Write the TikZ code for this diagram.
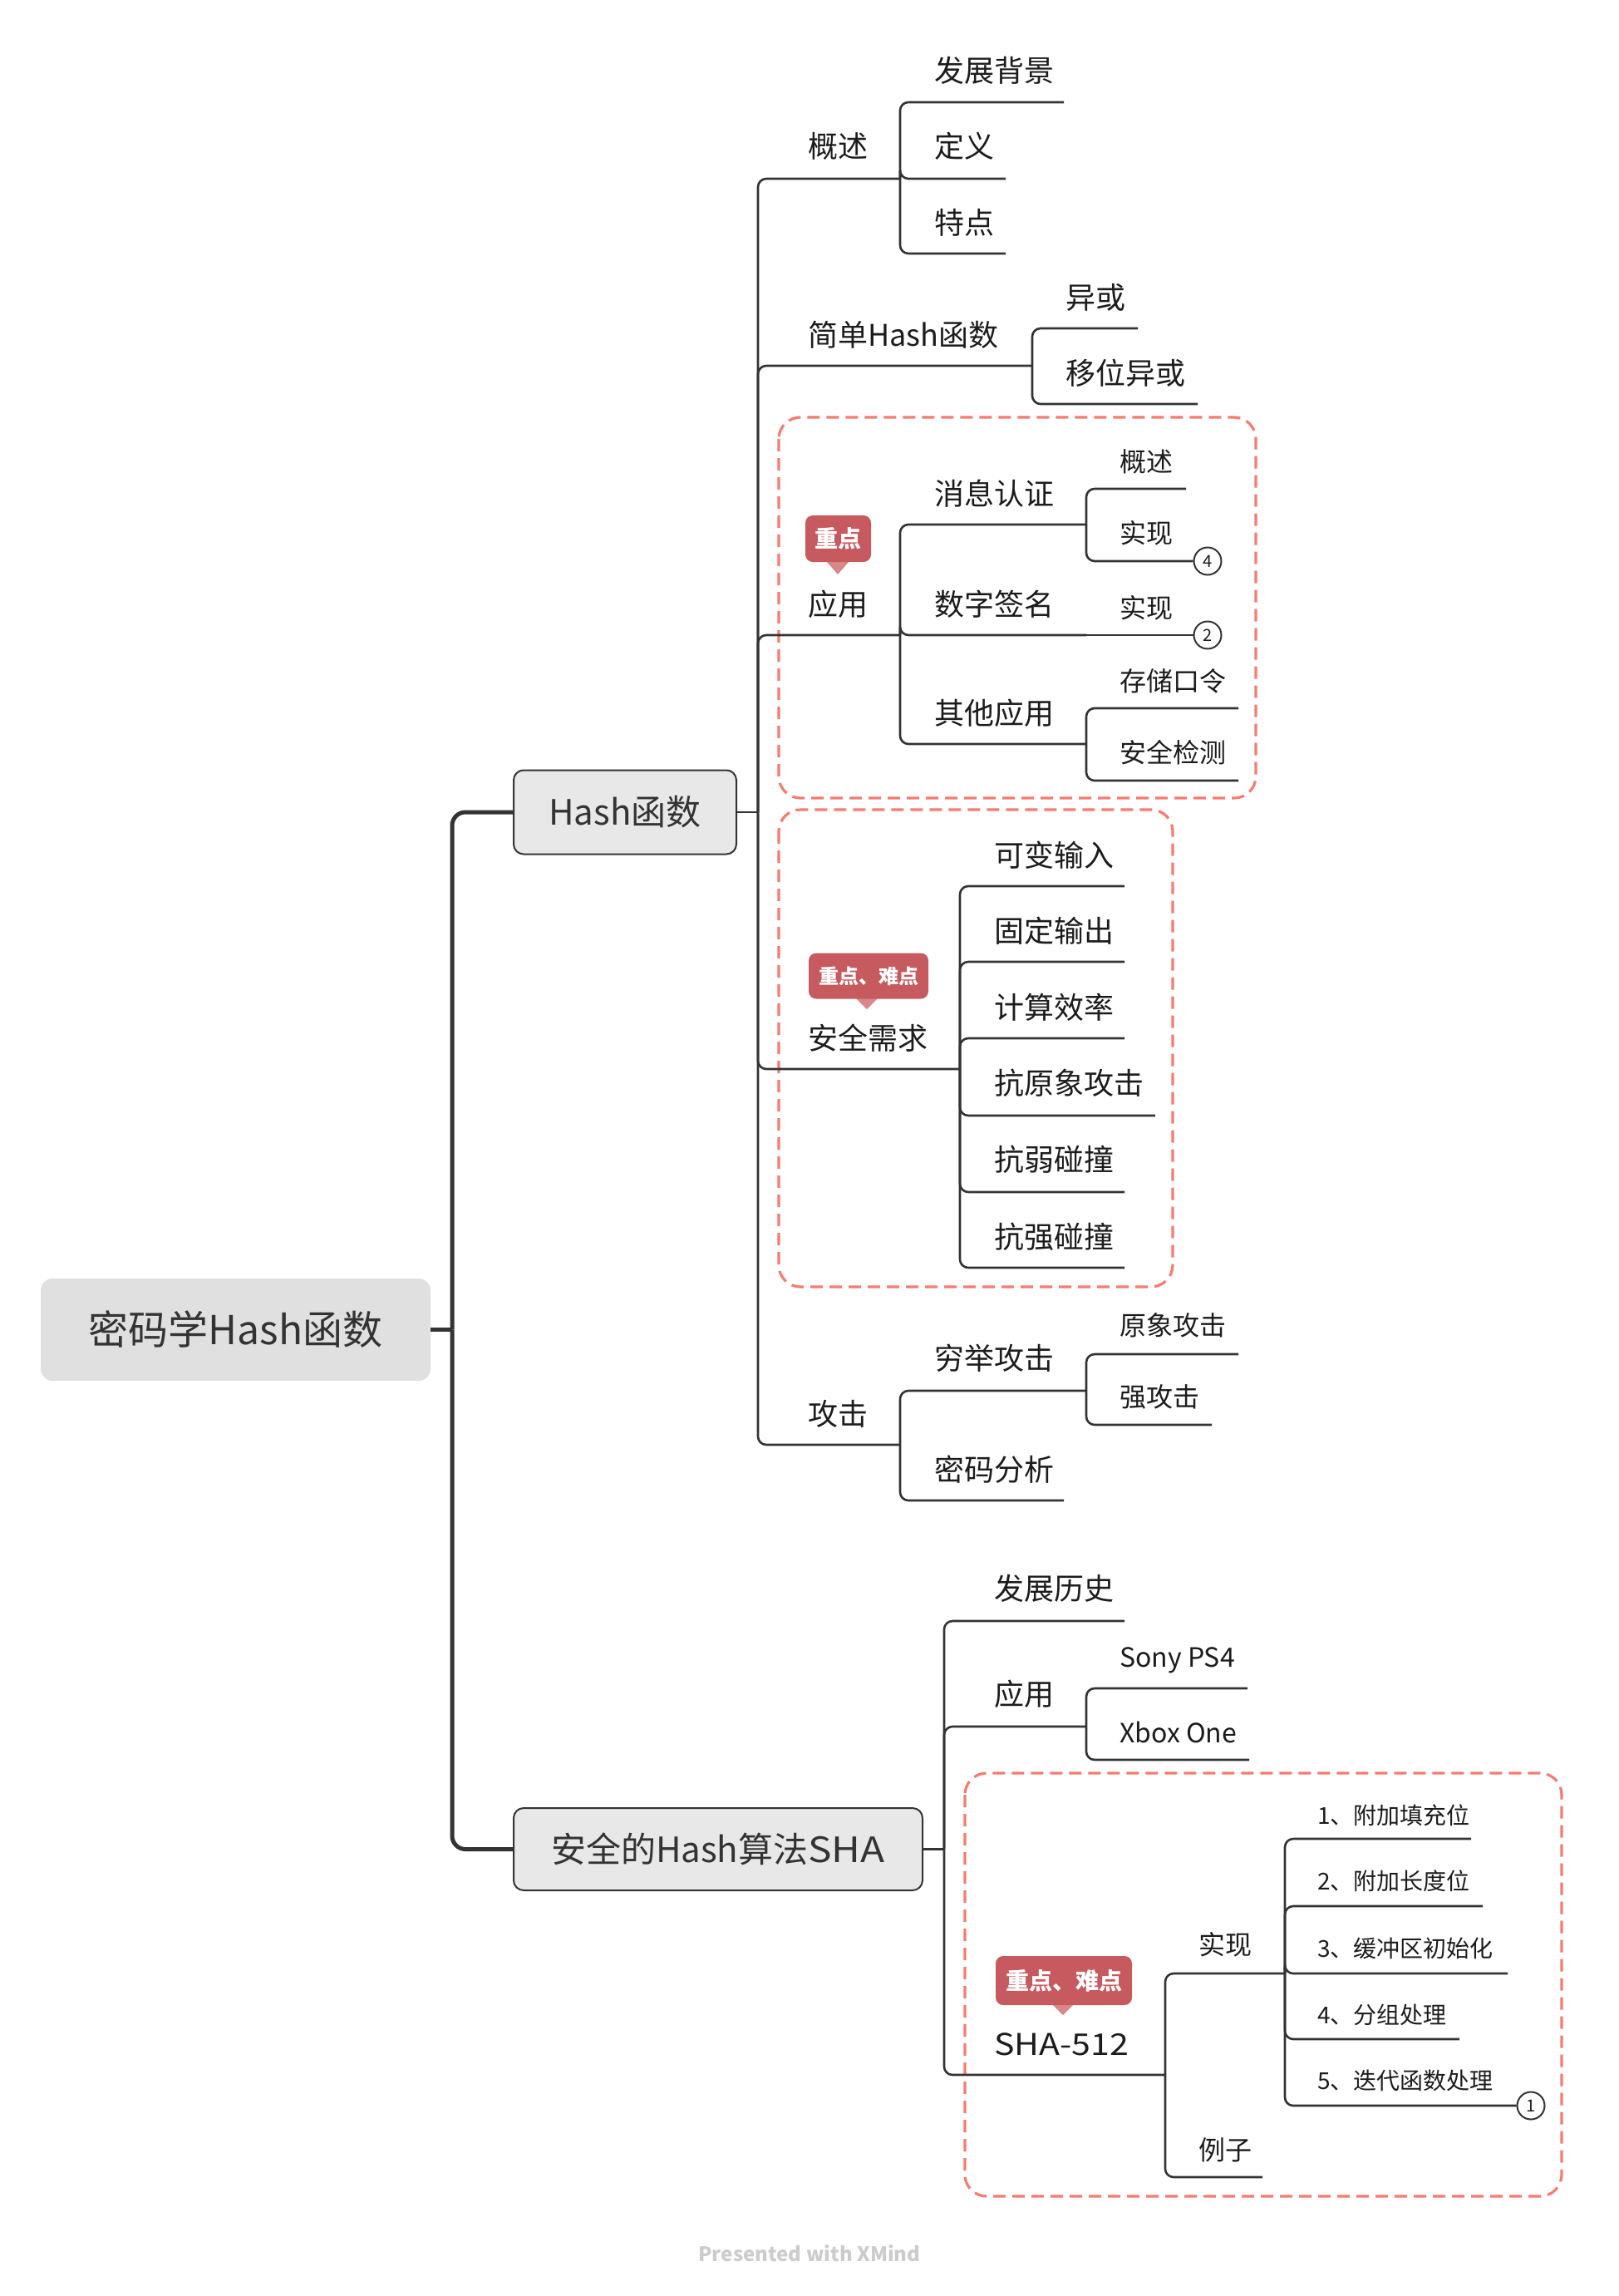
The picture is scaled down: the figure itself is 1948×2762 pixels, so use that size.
\documentclass[tikz,border=0pt]{standalone}
\usepackage{fontspec}
\setmainfont{Noto Sans CJK SC}
\newfontfamily\widelat{Noto Sans CJK SC}[FakeStretch=1.14]
\definecolor{linec}{HTML}{333333}
\definecolor{redd}{HTML}{F67B71}
\definecolor{tagc}{HTML}{C65A5E}
\definecolor{tagp}{HTML}{D9878A}
\definecolor{rootfill}{HTML}{E0E0E0}
\definecolor{boxfill}{HTML}{E8E8E8}
\definecolor{txt}{HTML}{1C1C1C}
\definecolor{txtb}{HTML}{333333}
\definecolor{wmc}{HTML}{CCCCCC}
\begin{document}
\begin{tikzpicture}[x=1pt,y=-1pt,
 t1/.style={anchor=west,inner sep=0pt,text=txt,font=\fontsize{36}{40}\selectfont},
 t2/.style={anchor=west,inner sep=0pt,text=txt,font=\fontsize{32}{36}\selectfont},
 t3/.style={anchor=west,inner sep=0pt,text=txt,font=\fontsize{28}{32}\selectfont},
 br/.style={draw=linec,line width=2.6pt,rounded corners=10pt},
 trunkline/.style={draw=linec,line width=5pt,rounded corners=16pt},
 dbox/.style={draw=redd,line width=3.2pt,dash pattern=on 15pt off 8pt,rounded corners=26pt},
 tagbox/.style={fill=tagc,rounded corners=9pt,text=white,inner sep=0pt},
 tagptr/.style={fill=tagp},
 num/.style={circle,draw=linec,line width=2pt,fill=white,minimum size=33pt,inner sep=0pt,text=txt,font=\fontsize{20}{20}\selectfont}]

\useasboundingbox (0,0) rectangle (1948,2762);

% dashed highlight frames
\draw[dbox] (937,502) rectangle (1511,960);
\draw[dbox] (937,974) rectangle (1411,1548);
\draw[dbox] (1161,2133) rectangle (1879,2642);

% main topics
\node[fill=rootfill,rounded corners=14pt,minimum width=469pt,minimum height=123pt,inner sep=0pt,text=txtb,font=\fontsize{48}{52}\selectfont] (root) at (283.5,1599.5) {密码学Hash函数};
\node[fill=boxfill,draw=linec,line width=2pt,rounded corners=12pt,minimum width=268pt,minimum height=101pt,inner sep=0pt,text=txtb,font=\fontsize{42}{46}\selectfont] (hash) at (752,977) {Hash函数};
\node[fill=boxfill,draw=linec,line width=2pt,rounded corners=12pt,minimum width=492pt,minimum height=99pt,inner sep=0pt,text=txtb,font=\fontsize{42}{46}\selectfont] (sha) at (864,2224.5) {安全的Hash算法{\widelat SHA}};

% trunk
\coordinate (tj) at (544,1599.5);
\draw[trunkline] (root.east) -- (tj);
\draw[trunkline] (tj) |- (hash.west);
\draw[trunkline] (tj) |- (sha.west);

% ---------- Hash branch ----------
\coordinate (hj) at (912,977);
\draw[br] (hash.east) -- (hj);
\coordinate (e-gs) at (1083,215);
\coordinate (e-jd) at (1242,440);
\coordinate (e-yy) at (1083,764);
\coordinate (e-aq) at (1155,1286);
\coordinate (e-gj) at (1083,1738);
\foreach \c in {e-gs,e-jd,e-yy,e-aq,e-gj} \draw[br] (hj) |- (\c);

% 概述
\coordinate (e-fz) at (1280,123);
\coordinate (e-dy) at (1210,215);
\coordinate (e-td) at (1210,305);
\foreach \c in {e-fz,e-dy,e-td} \draw[br] (e-gs) |- (\c);

% 简单Hash函数
\coordinate (e-yh) at (1369,395);
\coordinate (e-yw) at (1441,486);
\foreach \c in {e-yh,e-yw} \draw[br] (e-jd) |- (\c);

% 应用
\coordinate (e-xx) at (1307,631);
\coordinate (e-sz) at (1307,764);
\coordinate (e-qt) at (1307,895);
\foreach \c in {e-xx,e-sz,e-qt} \draw[br] (e-yy) |- (\c);
\node[num] (n4) at (1453,675) {4};
\node[num] (n2) at (1453,764) {2};
\coordinate (e-xg) at (1427,588);
\draw[br] (e-xx) |- (e-xg);
\draw[br] (e-xx) |- (n4.west);
\draw[br] (e-sz) -- (n2.west);
\coordinate (e-cc) at (1490,852);
\coordinate (e-aj) at (1490,939);
\foreach \c in {e-cc,e-aj} \draw[br] (e-qt) |- (\c);

% 安全需求
\coordinate (e-a1) at (1353,1066);
\coordinate (e-a2) at (1353,1157);
\coordinate (e-a3) at (1353,1249);
\coordinate (e-a4) at (1390,1342);
\coordinate (e-a5) at (1353,1434);
\coordinate (e-a6) at (1353,1525);
\foreach \c in {e-a1,e-a2,e-a3,e-a4,e-a5,e-a6} \draw[br] (e-aq) |- (\c);

% 攻击
\coordinate (e-qj) at (1307,1673);
\coordinate (e-mf) at (1280,1805);
\foreach \c in {e-qj,e-mf} \draw[br] (e-gj) |- (\c);
\coordinate (e-yx) at (1490,1629);
\coordinate (e-qg) at (1458,1714);
\foreach \c in {e-yx,e-qg} \draw[br] (e-qj) |- (\c);

% ---------- SHA branch ----------
\coordinate (sj) at (1136,2224.5);
\draw[br] (sha.east) -- (sj);
\coordinate (e-ls) at (1353,1950);
\coordinate (e-sy) at (1307,2077);
\coordinate (e-s5) at (1402,2496);
\foreach \c in {e-ls,e-sy,e-s5} \draw[br] (sj) |- (\c);
\coordinate (e-ps) at (1501,2031);
\coordinate (e-xb) at (1503,2117);
\foreach \c in {e-ps,e-xb} \draw[br] (e-sy) |- (\c);
\coordinate (e-sx) at (1546,2374);
\coordinate (e-lz) at (1519,2619);
\foreach \c in {e-sx,e-lz} \draw[br] (e-s5) |- (\c);
\node[num] (n1) at (1842,2533) {1};
\coordinate (e-b1) at (1770,2212);
\coordinate (e-b2) at (1784,2293);
\coordinate (e-b3) at (1814,2374);
\coordinate (e-b4) at (1756,2453);
\foreach \c in {e-b1,e-b2,e-b3,e-b4} \draw[br] (e-sx) |- (\c);
\draw[br] (e-sx) |- (n1.west);

% ---------- texts ----------
\node[t1] (gs) at (972,176) {概述};
\node[t1] (jd) at (972,403) {简单Hash函数};
\node[t1] (yy) at (972,727) {应用};
\node[t1] (aq) at (972,1249) {安全需求};
\node[t1] (gj) at (972,1701) {攻击};

\node[t1] (fz) at (1124,85) {发展背景};
\node[t1] (dy) at (1124,176) {定义};
\node[t1] (td) at (1124,268) {特点};
\node[t1] (yh) at (1282,358) {异或};
\node[t1] (yw) at (1282,449) {移位异或};

\node[t1] (xx) at (1124,594) {消息认证};
\node[t1] (sz) at (1124,727) {数字签名};
\node[t1] (qt) at (1124,858) {其他应用};
\node[t2] (xg) at (1347,555) {概述};
\node[t2] (xs) at (1347,641) {实现};
\node[t2] (ss) at (1347,731) {实现};
\node[t2] (cc) at (1347,819) {存储口令};
\node[t2] (aj) at (1347,905) {安全检测};

\node[t1] (a1) at (1196,1029) {可变输入};
\node[t1] (a2) at (1196,1120) {固定输出};
\node[t1] (a3) at (1196,1212) {计算效率};
\node[t1] (a4) at (1196,1303) {抗原象攻击};
\node[t1] (a5) at (1196,1395) {抗弱碰撞};
\node[t1] (a6) at (1196,1488) {抗强碰撞};

\node[t1] (qj) at (1124,1634) {穷举攻击};
\node[t1] (mf) at (1124,1768) {密码分析};
\node[t2] (yx) at (1347,1594) {原象攻击};
\node[t2] (qg) at (1347,1680) {强攻击};

\node[t1] (ls) at (1196,1911) {发展历史};
\node[t1] (sy) at (1196,2038) {应用};
\node[t1,font=\widelat\fontsize{36}{40}\selectfont] (s5) at (1196,2459) {SHA-512};
\node[t2] (ps) at (1347,1997) {Sony PS4};
\node[t2] (xb) at (1347,2084) {Xbox One};
\node[t2] (sx) at (1442,2339) {实现};
\node[t2] (lz) at (1442,2586) {例子};
\node[t3] (b1) at (1585,2184) {1、附加填充位};
\node[t3] (b2) at (1585,2263) {2、附加长度位};
\node[t3] (b3) at (1585,2344) {3、缓冲区初始化};
\node[t3] (b4) at (1585,2424) {4、分组处理};
\node[t3] (b5) at (1585,2503) {5、迭代函数处理};

% ---------- tags ----------
\fill[tagptr] (994,675) -- (1022,675) -- (1008,691) -- cycle;
\node[tagbox,minimum width=79pt,minimum height=56pt,font=\bfseries\fontsize{28}{30}\selectfont] (tag1) at (1008.5,648) {重点};
\fill[tagptr] (1029,1200) -- (1057,1200) -- (1043,1214) -- cycle;
\node[tagbox,minimum width=144pt,minimum height=55pt,font=\bfseries\fontsize{24}{26}\selectfont] (tag2) at (1045,1174) {重点、难点};
\fill[tagptr] (1265,2410) -- (1293,2410) -- (1279,2424) -- cycle;
\node[tagbox,minimum width=164pt,minimum height=59pt,font=\bfseries\fontsize{28}{30}\selectfont] (tag3) at (1280,2382.5) {重点、难点};

% watermark
\node[text=wmc,font=\bfseries\fontsize{24}{26}\selectfont] (wm) at (974,2711) {Presented with XMind};
\end{tikzpicture}
\end{document}
